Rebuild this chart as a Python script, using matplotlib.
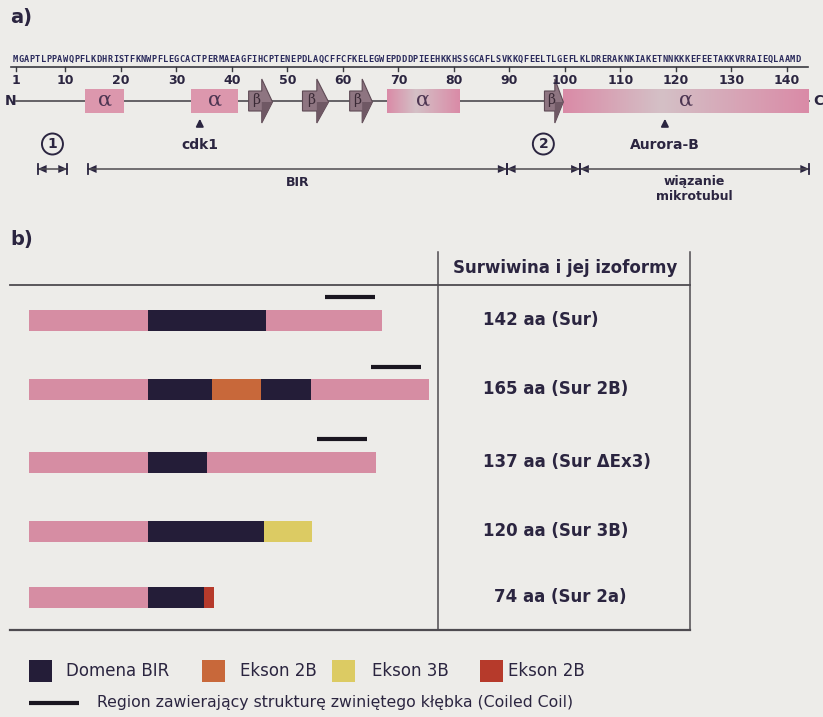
import numpy as np
import matplotlib.pyplot as plt
from matplotlib.patches import Rectangle, Polygon, Circle
from matplotlib.colors import LinearSegmentedColormap

# ---- data: panel a (survivin primary / secondary structure) ----
sequence = ("MGAPTLPPAWQPFLKDHRISTFKNWPFLEGCACTPERMAEAGFIHCPTENEPDLAQCFFCFKEL"
            "EGWEPDDDPIEEHKKHSSGCAFLSVKKQFEELTLGEFLKLDRERAKNKIAKETNNKKKEFEET"
            "AKKVRRAIEQLAAMD")
ruler_ticks = [1, 10, 20, 30, 40, 50, 60, 70, 80, 90, 100, 110, 120, 130, 140]
alpha_helices = [(13.6, 20.5), (32.7, 41.0), (68.0, 81.0), (99.7, 144.0)]
beta_strands = [(43.0, 47.3), (52.7, 57.4), (61.2, 65.3), (96.3, 99.7)]
site_residues = [34.2, 118.0]
site_names = ['cdk1', 'Aurora-B']
region_starts = [5.0, 14.0, 89.5, 102.7]
region_ends = [10.3, 89.5, 102.7, 144.0]
region_labels = ['1', 'BIR', '2', 'wiązanie\nmikrotubul']
region_circled = [True, False, True, False]

# ---- data: panel b (isoforms, positions in aa) ----
isoform_labels = ['142 aa (Sur)', '165 aa (Sur 2B)', '137 aa (Sur \u0394Ex3)',
                  '120 aa (Sur 3B)', '74 aa (Sur 2a)']
isoform_bounds = [
    [0, 48, 96, 143],
    [0, 48, 74, 94, 114, 162],
    [0, 48, 72, 140.5],
    [0, 48, 95, 114.5],
    [0, 48, 71, 75],
]
isoform_parts = [
    ['rest', 'bir', 'rest'],
    ['rest', 'bir', 'ex2b', 'bir', 'rest'],
    ['rest', 'bir', 'rest'],
    ['rest', 'bir', 'ex3b'],
    ['rest', 'bir', 'ex2b_red'],
]
coil_start = [119.8, 138.5, 116.6, None, None]
coil_end = [140.1, 158.7, 136.8, None, None]

legend_keys = ['bir', 'ex2b', 'ex3b', 'ex2b_red']
legend_names = ['Domena BIR', 'Ekson 2B', 'Ekson 3B', 'Ekson 2B']
coil_name = 'Region zawierający strukturę zwiniętego kłębka (Coiled Coil)'

colors = {'rest': '#d68da3', 'bir': '#241d38', 'ex2b': '#c8683a',
          'ex3b': '#dccb63', 'ex2b_red': '#b63a2b'}
bg = '#edece9'
ink = '#2b2540'
line_c = '#4e4b50'

W, H = 823, 717
fig = plt.figure(figsize=(W / 100, H / 100), dpi=100, facecolor=bg)

# layout axes in pixels
ax = fig.add_axes([0, 0, 1, 1])
ax.set_xlim(0, W)
ax.set_ylim(H, 0)
ax.axis('off')

# panel a axes: x in residues
ax_a = fig.add_axes([0, 0, 1, 1])
px_per_res = 5.55
res0 = 20 - 121 / px_per_res
ax_a.axis('off')

# panel b axes: x in aa
ax_b = fig.add_axes([0, 0, 1, 1])
px_per_aa = 2.47
aa0 = -29 / px_per_aa
ax_b.axis('off')

ax.text(10, 17, 'a)', fontsize=14, fontweight='bold', color=ink, va='center')
ax.text(10, 239, 'b)', fontsize=14, fontweight='bold', color=ink, va='center')

# ---------------- panel a ----------------
for i, ch in enumerate(sequence):
    ax_a.text(i + 1, 59, ch, fontsize=6.2, fontweight='bold', color='#2a2a5c',
              ha='center', va='center', family='DejaVu Sans Mono')
ax_a.plot([0.2, 143.8], [67, 67], color='#3a3a40', lw=1.2)
for t in ruler_ticks:
    ax_a.plot([t, t], [67, 71], color='#3a3a40', lw=1)
    ax_a.text(t, 81, str(t), fontsize=9, fontweight='bold', color=ink,
              ha='center', va='center')

y_bb = 101
ax_a.plot([1, 144], [y_bb, y_bb], color=line_c, lw=1.2, zorder=1)
ax.text(11, y_bb, 'N', fontsize=10, fontweight='bold', color=ink, ha='center', va='center')
ax.text(818, y_bb, 'C', fontsize=10, fontweight='bold', color=ink, ha='center', va='center')

pink = '#da8ba7'
light = '#d4c0c6'
grad = LinearSegmentedColormap.from_list('ah', [pink, light, pink])
for r0, r1 in alpha_helices:
    if r1 - r0 > 10:
        prof = np.concatenate([np.linspace(0, 0.5, 40), np.linspace(0.5, 1, 60)])[None, :]
        ax_a.imshow(prof, cmap=grad, extent=[r0, r1, 113, 89], aspect='auto',
                    zorder=2, interpolation='bilinear')
    else:
        ax_a.add_patch(Rectangle((r0, 89), r1 - r0, 24, color='#dc97ad', zorder=2, lw=0))
    ax_a.text((r0 + r1) / 2, 100, '\u03b1', fontsize=15, family='DejaVu Serif',
              color='#4d3552', ha='center', va='center', zorder=3)

for r0, r1 in beta_strands:
    rm = r0 + 0.55 * (r1 - r0)
    pts = [(r0, 91), (rm, 91), (rm, 79), (r1, 102), (rm, 123), (rm, 111), (r0, 111)]
    ax_a.add_patch(Polygon(pts, closed=True, facecolor='#8e7581', edgecolor='#5e4a55',
                           lw=0.8, zorder=2))
    ax_a.add_patch(Polygon([(rm, 102), (r1, 102), (rm, 123)], closed=True,
                           facecolor='#6f5864', lw=0, zorder=2))
    ax_a.text((r0 + rm) / 2 + 0.2, 100, '\u03b2', fontsize=10, family='DejaVu Serif',
              color='#3a2a36', ha='center', va='center', zorder=3)

for r, name in zip(site_residues, site_names):
    ax_a.annotate('', xy=(r, 116), xytext=(r, 129),
                  arrowprops=dict(arrowstyle='-|>', color=ink, lw=1.3, mutation_scale=11))
    ax_a.text(r, 145, name, fontsize=10, fontweight='bold', color=ink,
              ha='center', va='center')

y_dim = 169
head = 1.6
for a, b, lab, circ in zip(region_starts, region_ends, region_labels, region_circled):
    ax_a.plot([a, b], [y_dim, y_dim], color=line_c, lw=1.1)
    for x in (a, b):
        ax_a.plot([x, x], [y_dim - 5, y_dim + 5], color=ink, lw=1.3)
    ax_a.add_patch(Polygon([(a, y_dim), (a + head, y_dim - 4), (a + head, y_dim + 4)],
                           closed=True, color=ink, lw=0))
    ax_a.add_patch(Polygon([(b, y_dim), (b - head, y_dim - 4), (b - head, y_dim + 4)],
                           closed=True, color=ink, lw=0))
    xc = (a + b) / 2
    if circ:
        xp = (xc - res0) * px_per_res
        ax.add_patch(Circle((xp, 144), 10.5, fill=False, edgecolor=ink, lw=1.4))
        ax.text(xp, 144, lab, fontsize=10, fontweight='bold', color=ink,
                ha='center', va='center')
    else:
        yl = 189 if '\n' in lab else 183
        ax_a.text(xc, yl, lab, fontsize=9, fontweight='bold', color=ink,
                  ha='center', va='center', linespacing=1.15)

ax_a.set_xlim(res0, res0 + W / px_per_res)
ax_a.set_ylim(H, 0)

# ---------------- panel b ----------------
ax.plot([10, 690], [285, 285], color=line_c, lw=1.3)
ax.plot([10, 690], [630, 630], color=line_c, lw=1.6)
ax.plot([438, 438], [252, 630], color=line_c, lw=1.1)
ax.plot([690, 690], [252, 630], color=line_c, lw=1.1)
ax.text(565, 268, 'Surwiwina i jej izoformy', fontsize=12, fontweight='bold',
        color=ink, ha='center', va='center')

bar_y = [320, 389.5, 462, 531, 597.5]
label_x = [483, 483, 483, 483, 494]
for k in range(len(isoform_labels)):
    bounds = isoform_bounds[k]
    for j, part in enumerate(isoform_parts[k]):
        ax_b.barh(bar_y[k], bounds[j + 1] - bounds[j], left=bounds[j], height=21,
                  color=colors[part], lw=0)
    if coil_start[k] is not None:
        ax_b.plot([coil_start[k], coil_end[k]], [bar_y[k] - 23, bar_y[k] - 23],
                  color='#1a1620', lw=3, solid_capstyle='butt')
    ax.text(label_x[k], bar_y[k], isoform_labels[k], fontsize=12, fontweight='bold',
            color=ink, ha='left', va='center')

ax_b.set_xlim(aa0, aa0 + W / px_per_aa)
ax_b.set_ylim(H, 0)

# legend
sq_x = [29, 202, 332, 480]
txt_x = [66, 240, 372, 508]
for key, name, sx, tx in zip(legend_keys, legend_names, sq_x, txt_x):
    ax.add_patch(Rectangle((sx, 660), 23, 22, color=colors[key], lw=0))
    ax.text(tx, 671, name, fontsize=12, color=ink, ha='left', va='center')
ax.plot([29, 79], [703, 703], color='#1a1620', lw=3, solid_capstyle='butt')
ax.text(97, 703, coil_name, fontsize=11.3, color=ink, ha='left', va='center')

fig.savefig('out.png', dpi=100, facecolor=bg)
